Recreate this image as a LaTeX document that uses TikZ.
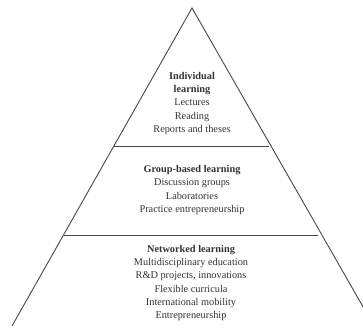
\documentclass[tikz,border=0pt]{standalone}
\usepackage{fontspec}
\setmainfont{Liberation Serif}
\begin{document}
\begin{tikzpicture}[x=1pt,y=-1pt,
  edge/.style={draw=black!72,line width=0.9pt},
  level/.style={align=center,text=black!80,font=\fontsize{10.3}{13.3}\selectfont,inner sep=0pt}]
\useasboundingbox (0,0) rectangle (363,328);
\clip (0,0) rectangle (363,328);
% pyramid outline
\coordinate (apex) at (192,8);
\coordinate (bl) at (12,326);
\coordinate (br) at (374,326);
\coordinate (l1) at (114,146);
\coordinate (r1) at (269,146);
\coordinate (l2) at (63.5,235);
\coordinate (r2) at (318,235);
\draw[edge] (bl) -- (apex) -- (br);
\draw[edge] (l1) -- (r1);
\draw[edge] (l2) -- (r2);
% tiers
\node[level] (top) at (192,103.5) {\textbf{Individual}\\\textbf{learning}\\Lectures\\Reading\\Reports and theses};
\node[level] (mid) at (192,190) {\textbf{Group-based learning}\\Discussion groups\\Laboratories\\Practice entrepreneurship};
\node[level] (bot) at (191,283) {\textbf{Networked learning}\\Multidisciplinary education\\R\&D projects, innovations\\Flexible curricula\\International mobility\\Entrepreneurship};
\end{tikzpicture}
\end{document}
